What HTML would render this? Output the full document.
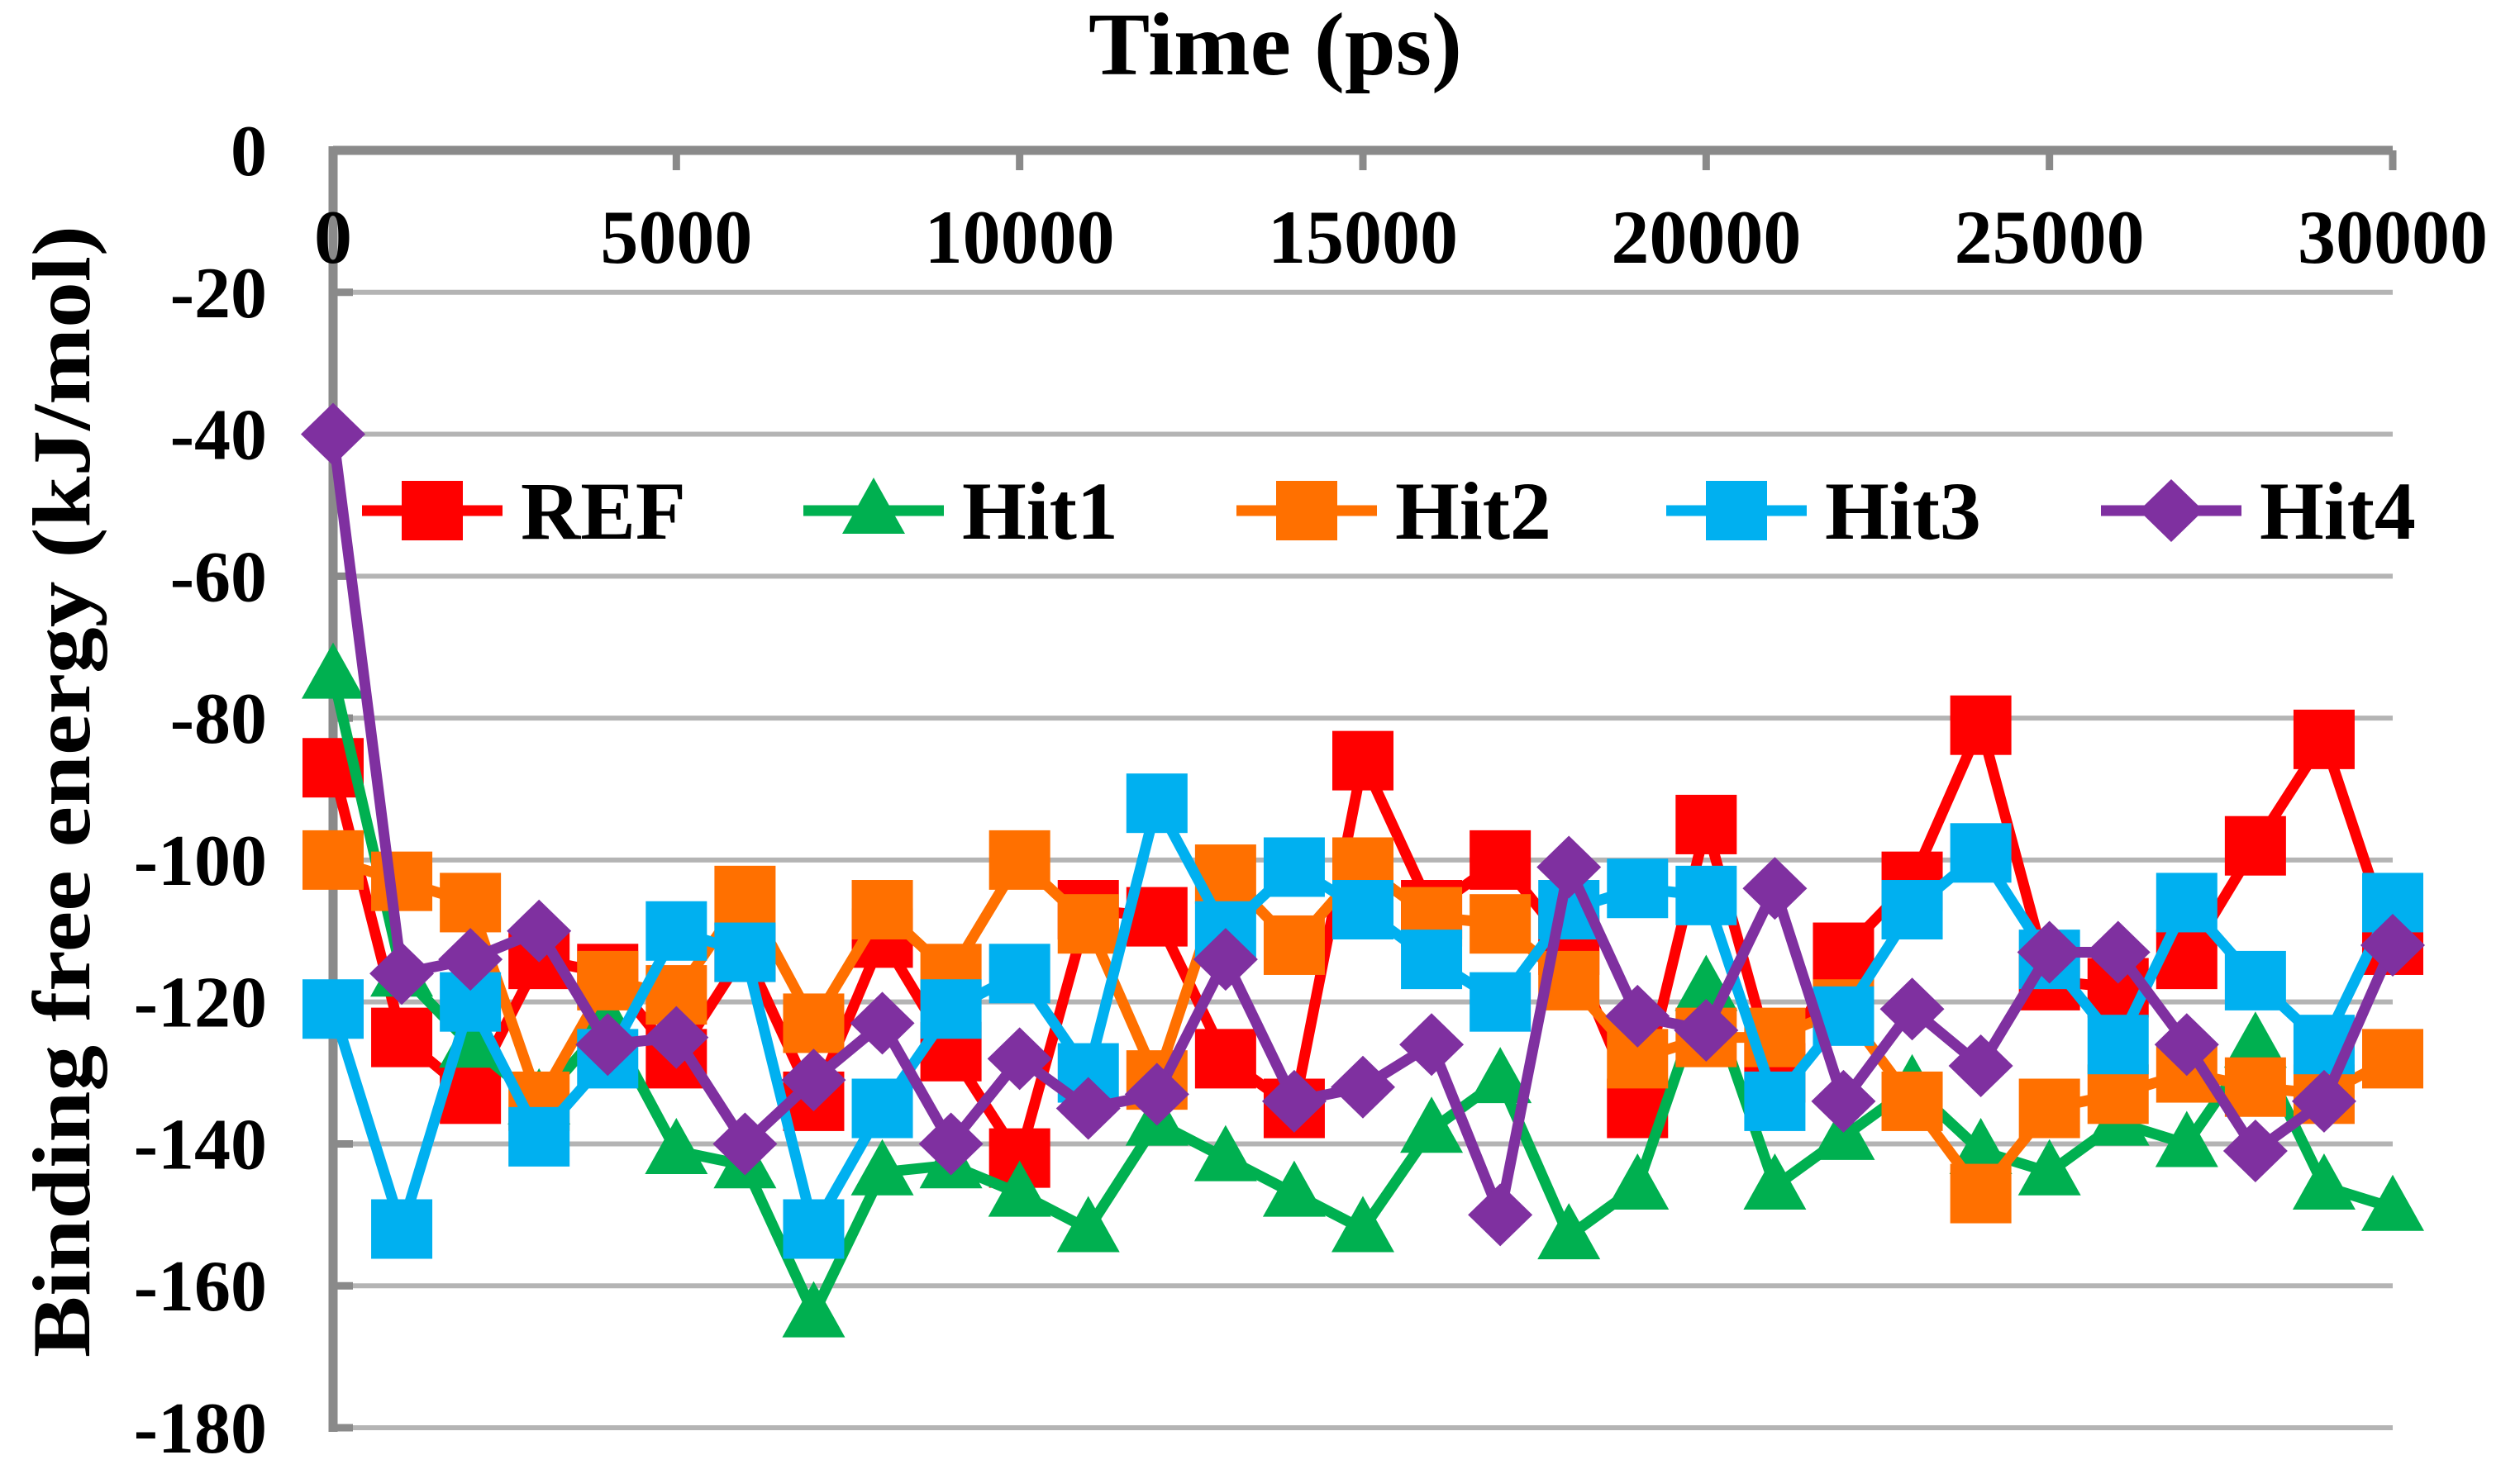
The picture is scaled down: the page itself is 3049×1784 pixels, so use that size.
<!DOCTYPE html>
<html><head><meta charset="utf-8"><style>
html,body{margin:0;padding:0;background:#fff;}
svg{display:block;}
text{font-family:"Liberation Serif",serif;font-weight:bold;fill:#000;}
</style></head><body>
<svg id="chart" width="3049" height="1784" viewBox="0 0 3049 1784" xmlns="http://www.w3.org/2000/svg">
<g id="grid"></g>
<g id="axes"></g>
<g id="series"></g>
<g id="legend"></g>
<text x="1543" y="90" font-size="108" text-anchor="middle" textLength="452" lengthAdjust="spacingAndGlyphs">Time (ps)</text>
<text transform="translate(108,958) rotate(-90)" font-size="100" text-anchor="middle" textLength="1370" lengthAdjust="spacingAndGlyphs">Binding free energy (kJ/mol)</text>
</svg>
<script>
const times = [0,1000,2000,3000,4000,5000,6000,7000,8000,9000,10000,11000,12000,13000,14000,15000,16000,17000,18000,19000,20000,21000,22000,23000,24000,25000,26000,27000,28000,29000,30000];
const refVals  = [-87,-125,-133,-114,-116,-128,-113,-134,-111,-127,-142,-107,-108,-128,-135,-86,-107,-100,-112,-135,-95,-130,-113,-103,-81,-117,-118,-114,-98,-83,-112];
const hit1Vals = [-74,-116,-126,-134,-123,-141,-143,-164,-144,-143,-147,-152,-137,-142,-147,-152,-138,-131,-153,-146,-118,-146,-139,-132,-141,-144,-137,-140,-126,-146,-149];
const hit2Vals = [-100,-103,-106,-134,-117,-119,-105,-123,-107,-116,-100,-109,-131,-102,-112,-101,-108,-109,-117,-128,-125,-125,-121,-134,-147,-135,-133,-130,-132,-133,-128];
const hit3Vals = [-121,-152,-120,-139,-128,-110,-113,-152,-135,-121,-116,-130,-92,-110,-101,-107,-114,-120,-107,-104,-105,-134,-122,-107,-99,-114,-126,-106,-117,-126,-106];
const hit4Vals = [-40,-116,-114,-110,-126,-125,-140,-131,-123,-140,-128,-135,-133,-114,-134,-132,-126,-150,-101,-122,-124,-104,-134,-121,-129,-113,-113,-126,-141,-134,-112];
const xTicks = [0,5000,10000,15000,20000,25000,30000];
const yTicks = [0,-20,-40,-60,-80,-100,-120,-140,-160,-180];
const seriesNames = ["REF","Hit1","Hit2","Hit3","Hit4"];

const NS="http://www.w3.org/2000/svg";
const X0=403,X1=2895,Y0=182,Y1=1728;
function xs(t){return X0+(t-0)/(30000-0)*(X1-X0);}
function ys(v){return Y0+(0-v)/(180)*(Y1-Y0);}
function mk(tag,attrs,parent){const e=document.createElementNS(NS,tag);for(const k in attrs)e.setAttribute(k,attrs[k]);parent.appendChild(e);return e;}

const grid=document.getElementById('grid'),axes=document.getElementById('axes'),sg=document.getElementById('series'),lg=document.getElementById('legend');
yTicks.forEach(v=>{
  if(v!==0){
    const l=mk('line',{x1:X0,x2:X1,y1:ys(v),y2:ys(v),stroke:'#b4b4b4','stroke-width':6},grid);
    
    
    const tk=mk('line',{x1:X0,x2:X0+24,y1:ys(v),y2:ys(v),stroke:'#8a8a8a','stroke-width':9},axes);
    
    
  }
  const t=mk('text',{x:323,y:ys(v)+30,'font-size':88,'text-anchor':'end'},axes);
  t.textContent=String(v);
  
  
});
const ax1=mk('line',{x1:X0,x2:X1,y1:Y0,y2:Y0,stroke:'#8a8a8a','stroke-width':11},axes);


const ax2=mk('line',{x1:X0,x2:X0,y1:Y0-5,y2:Y1+5,stroke:'#8a8a8a','stroke-width':11},axes);


xTicks.forEach(v=>{
  const tk=mk('line',{x1:xs(v),x2:xs(v),y1:Y0,y2:Y0+24,stroke:'#8a8a8a','stroke-width':9},axes);
  
  
  const t=mk('text',{x:xs(v),y:318,'font-size':92,'text-anchor':'middle'},axes);
  t.textContent=String(v);
  
  
});

function marker(type,cx,cy,color,parent){
  let e;
  if(type==='square') e=mk('rect',{x:cx-37,y:cy-36,width:74,height:72,fill:color},parent);
  else if(type==='triangle') e=mk('polygon',{points:`${cx},${cy-40} ${cx+38},${cy+28} ${cx-38},${cy+28}`,fill:color},parent);
  else e=mk('polygon',{points:`${cx},${cy-38} ${cx+39},${cy} ${cx},${cy+38} ${cx-39},${cy}`,fill:color},parent);
  return e;
}
const allVals=[refVals,hit1Vals,hit2Vals,hit3Vals,hit4Vals];
const colors=['#ff0000','#00b050','#ff7000','#00b0f0','#7f30a0'];
const shapes=['square','triangle','square','square','diamond'];
allVals.forEach((vals,i)=>{
  const g=mk('g',{},sg);
  
  
  const pts=vals.map((v,j)=>xs(times[j])+','+ys(v)).join(' ');
  const pl=mk('polyline',{points:pts,fill:'none',stroke:colors[i],'stroke-width':13,'stroke-linejoin':'round'},g);
  
  
  vals.forEach((v,j)=>{
    const m=marker(shapes[i],xs(times[j]),ys(v),colors[i],g);
    
    
  });
});
const legX=[438,972,1496,2016,2542];
seriesNames.forEach((n,i)=>{
  const g=mk('g',{},lg);
  
  
  const x=legX[i],y=618;
  mk('line',{x1:x,x2:x+170,y1:y,y2:y,stroke:colors[i],'stroke-width':13},g);
  marker(shapes[i],x+85,y,colors[i],g);
  const t=mk('text',{x:x+192,y:y+34,'font-size':100},g);
  t.textContent=n;
  
  
});
</script>
</body></html>
